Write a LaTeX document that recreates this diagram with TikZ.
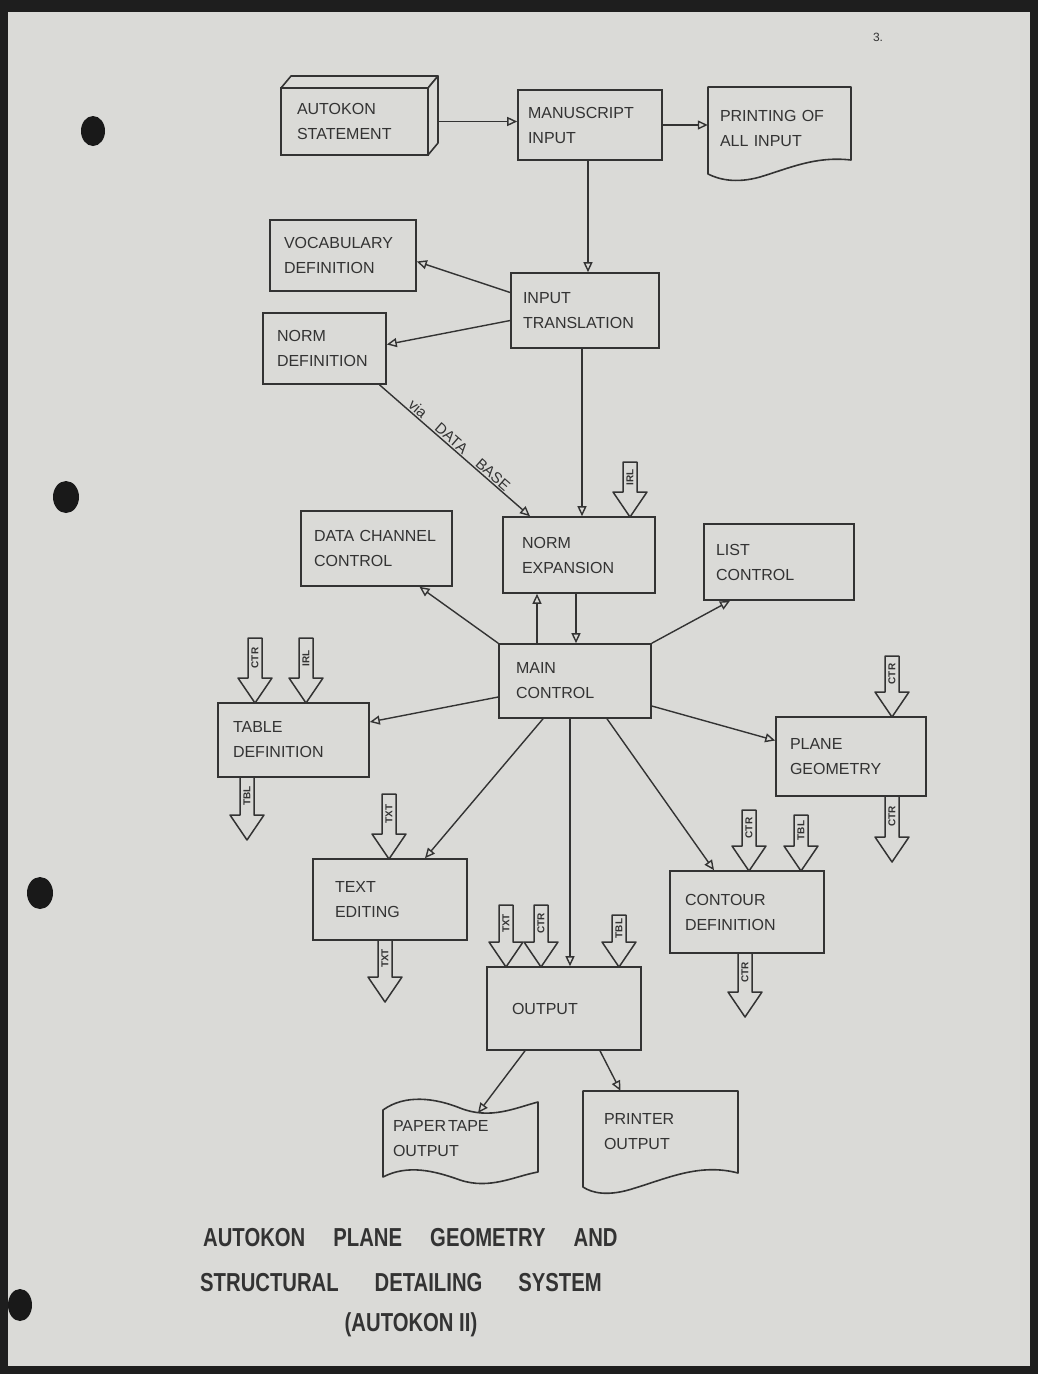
\documentclass[tikz,border=0pt]{standalone}
\usepackage{fontspec}
\usepackage{graphicx}
\setmainfont{Liberation Sans}
\usetikzlibrary{arrows.meta}
\definecolor{paper}{HTML}{DADAD7}
\definecolor{ink}{HTML}{333333}
\definecolor{frame}{HTML}{1E1E1E}
\newcommand{\blkarrow}[5]{%
  \draw[blk] (#1-7,#2) -- (#1+7,#2) -- (#1+7,#3-25) -- (#1+17,#3-25) -- (#1,#3) -- (#1-17,#3-25) -- (#1-7,#3-25) -- cycle;
  \node[blklab] (#5) at (#1,{(#2+#3-25)/2}) {#4};}
\begin{document}
\begin{tikzpicture}[x=1pt,y=-1pt,
  box/.style={draw=ink, line width=1.6pt, fill=paper, text=ink, align=left, font=\fontsize{16}{25}\selectfont, inner sep=0pt},
  doc/.style={text=ink, align=left, font=\fontsize{16}{25}\selectfont, inner sep=0pt},
  shp/.style={draw=ink, line width=1.6pt, fill=paper, line join=round},
  arr/.style={draw=ink, line width=1.4pt, -{Triangle[open,length=10pt,width=9pt]}},
  blk/.style={draw=ink, line width=1.5pt, fill=paper, line join=round},
  blklab/.style={text=ink, rotate=90, font=\fontsize{10}{10}\selectfont\bfseries, inner sep=0pt},
  ttl/.style={text=black!80, font=\fontsize{26}{30}\selectfont\bfseries, inner sep=0pt}]
\useasboundingbox (0,0) rectangle (1038,1374);
% page
\fill[frame] (0,0) rectangle (1038,1374);
\fill[paper] (8,12) rectangle (1030,1366);
% punch holes
\fill[black!90] (93,131) ellipse (12 and 15);
\fill[black!90] (66,497) ellipse (13 and 16);
\fill[black!90] (40,893) ellipse (13 and 16);
\fill[black!90] (20,1305) ellipse (12 and 16);
\node[text=ink, font=\fontsize{12}{12}\selectfont, inner sep=0pt] (pagenum) at (878,37) {3.};

% AUTOKON STATEMENT (3D box)
\draw[shp] (281,88) -- (291,76) -- (438,76) -- (428,88) -- cycle;
\draw[shp] (428,88) -- (438,76) -- (438,143) -- (428,155) -- cycle;
\node[box, minimum width=147, minimum height=67, text width=115] (as) at (354.5,121.5) {AUTOKON\\STATEMENT};
\node[box, minimum width=144, minimum height=70, text width=124] (ms) at (590,125) {MANUSCRIPT\\INPUT};
% printing of all input
\draw[shp] (708,87) -- (851,87) -- (851,160) .. controls (815,156) and (790,168) .. (760,177) .. controls (735,184) and (718,179) .. (708,174) -- cycle;
\node[doc, minimum width=143, minimum height=83, text width=119] (pr) at (779.5,128.5) {PRINTING OF\\ALL INPUT};

\node[box, minimum width=146, minimum height=71, text width=118] (vd) at (343,255.5) {VOCABULARY\\DEFINITION};
\node[box, minimum width=148, minimum height=75, text width=124] (it) at (585,310.5) {INPUT\\TRANSLATION};
\node[box, minimum width=123, minimum height=71, text width=95] (nd) at (324.5,348.5) {NORM\\DEFINITION};
\node[box, minimum width=152, minimum height=76, text width=114] (ne) at (579,555) {NORM\\EXPANSION};
\node[box, minimum width=151, minimum height=75, text width=125] (dc) at (376.5,548.5) {DATA CHANNEL\\CONTROL};
\node[box, minimum width=150, minimum height=76, text width=126] (lc) at (779,562) {LIST\\CONTROL};
\node[box, minimum width=152, minimum height=74, text width=118] (mc) at (575,681) {MAIN\\CONTROL};
\node[box, minimum width=151, minimum height=74, text width=121] (td) at (293.5,740) {TABLE\\DEFINITION};
\node[box, minimum width=150, minimum height=79, text width=122] (pg) at (851,756.5) {PLANE\\GEOMETRY};
\node[box, minimum width=154, minimum height=81, text width=110] (te) at (390,899.5) {TEXT\\EDITING};
\node[box, minimum width=154, minimum height=82, text width=124] (cd) at (747,912) {CONTOUR\\DEFINITION};
\node[box, minimum width=154, minimum height=83, text width=104] (op) at (564,1008.5) {OUTPUT};

% paper tape output
\draw[shp] (383,1110) .. controls (405,1094) and (435,1098) .. (460,1108) .. controls (490,1120) and (515,1108) .. (538,1102) -- (538,1172) .. controls (515,1176) and (490,1190) .. (460,1180) .. controls (435,1171) and (408,1164) .. (383,1177) -- cycle;
\node[doc, minimum width=155, minimum height=78, text width=135] (pt) at (460.5,1139) {PAPER\kern2pt TAPE\\OUTPUT};
\coordinate (pttop) at (478,1113);
% printer output
\draw[shp] (583,1091) -- (738,1091) -- (738,1173) .. controls (700,1163) and (668,1178) .. (635,1188) .. controls (608,1197) and (592,1193) .. (583,1187) -- cycle;
\node[doc, minimum width=155, minimum height=82, text width=113] (po) at (660.5,1132) {PRINTER\\OUTPUT};

% connectors
\draw[arr] ([xshift=10]as.east) -- (as.east -| ms.west);
\draw[arr] (ms.east) -- (ms.east -| pr.west);
\draw[arr] ([xshift=-2]ms.south) -- ([xshift=-2]ms.south |- it.north);
\draw[arr] ([yshift=18]it.west) -- ([yshift=-6]vd.east);
\draw[arr] ([yshift=-10]it.west) -- ([yshift=4]nd.east);
\draw[arr] ([xshift=-3]it.south) -- ([xshift=-3]it.south |- ne.north);
\draw[arr] ([xshift=55]nd.south) -- node[sloped, above, pos=0.5, text=ink, font=\fontsize{15}{15}\selectfont, inner sep=1pt] (via) {via \hspace{12pt}DATA \hspace{12pt}BASE} ([xshift=-49]ne.north);
\draw[arr] (mc.north west) -- ([xshift=43]dc.south);
\draw[arr] ([xshift=-38]mc.north) -- ([xshift=-38]mc.north |- ne.south);
\draw[arr] ([xshift=-3]ne.south) -- ([xshift=-3]ne.south |- mc.north);
\draw[arr] (mc.north east) -- ([xshift=-49]lc.south);
\draw[arr] ([yshift=-16]mc.west) -- ([yshift=18]td.east);
\draw[arr] ([yshift=-25]mc.east) -- ([yshift=16]pg.west);
\draw[arr] ([xshift=-32]mc.south) -- ([xshift=35]te.north);
\draw[arr] ([xshift=32]mc.south) -- ([xshift=-33]cd.north);
\draw[arr] ([xshift=-5]mc.south) -- ([xshift=-5]mc.south |- op.north);
\draw[arr] ([xshift=-39]op.south) -- (pttop);
\draw[arr] ([xshift=36]op.south) -- ([xshift=-40]po.north);

% block arrows (data files)
\blkarrow{630}{462}{517}{IRL}{a1}
\blkarrow{255}{638}{703}{CTR}{a2}
\blkarrow{306}{638}{703}{IRL}{a3}
\blkarrow{247}{777}{840}{TBL}{a4}
\blkarrow{892}{656}{717}{CTR}{a5}
\blkarrow{892}{796}{862}{CTR}{a6}
\blkarrow{389}{794}{859}{TXT}{a7}
\blkarrow{385}{940}{1002}{TXT}{a8}
\blkarrow{749}{810}{871}{CTR}{a9}
\blkarrow{801}{815}{871}{TBL}{a10}
\blkarrow{745}{953}{1017}{CTR}{a11}
\blkarrow{506}{905}{967}{TXT}{a12}
\blkarrow{541}{905}{967}{CTR}{a13}
\blkarrow{619}{915}{967}{TBL}{a14}

% title
\node[ttl, anchor=west] (t1) at (203,1238) {\scalebox{0.78}[1]{\spaceskip=36pt\relax AUTOKON PLANE GEOMETRY AND}};
\node[ttl, anchor=west] (t2) at (200,1283) {\scalebox{0.78}[1]{\spaceskip=46pt\relax STRUCTURAL DETAILING SYSTEM}};
\node[ttl] (t3) at (411,1325) {\scalebox{0.78}[1]{(AUTOKON II)}};
\end{tikzpicture}
\end{document}
